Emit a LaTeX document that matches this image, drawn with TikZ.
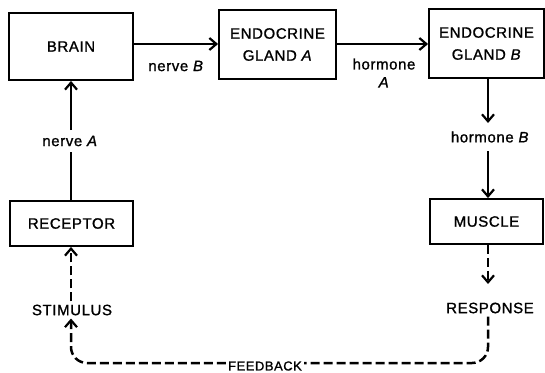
\documentclass[tikz,border=0pt]{standalone}
\usepackage{fontspec}
\setmainfont{Liberation Sans}[LetterSpace=4, FakeBold=1.2]
\usetikzlibrary{arrows.meta}
\begin{document}
\begin{tikzpicture}[x=1pt,y=1pt,
  every node/.style={font=\fontsize{15}{22}\selectfont, inner sep=3pt},
  blk/.style={draw, line width=1.9pt, minimum width=#1, align=center},
  lbl/.style={align=center},
  tip/.style={},
  arr/.style={line width=2.5pt, -{Straight Barb[length=7pt,width=12pt,line width=2.2pt]}},
  plain/.style={line width=2.5pt},
  dsh/.style={line width=2.5pt, dash pattern=on 9pt off 4pt},
  dsharr/.style={dsh, -{Straight Barb[length=7pt,width=12pt,line width=2.2pt]}}
]
\useasboundingbox (0,0) rectangle (545,-372);
% boxes
\node[blk=124pt, minimum height=67pt] (brain) at (71,-46.5) {BRAIN};
\node[blk=117pt, minimum height=69pt] (glandA) at (277.5,-44.5) {ENDOCRINE\\GLAND \textit{A}};
\node[blk=115pt, minimum height=69pt] (glandB) at (486.5,-43.5) {ENDOCRINE\\GLAND \textit{B}};
\node[blk=123pt, minimum height=45pt] (receptor) at (71.5,-223.5) {RECEPTOR};
\node[blk=113pt, minimum height=45pt] (muscle) at (486.5,-221.5) {MUSCLE};
% labels
\node[lbl] (nerveB) at (176,-66) {nerve \textit{B}};
\node[lbl, align=center, inner sep=1pt] (hormoneA) at (384,-73) {hormone\\[-4pt]\textit{A}};
\node[lbl] (nerveA) at (70,-141) {nerve \textit{A}};
\node[lbl] (hormoneB) at (490,-137) {hormone \textit{B}};
\node[lbl] (stimulus) at (72,-310) {STIMULUS};
\node[lbl] (response) at (490,-308) {RESPONSE};
\node[lbl, font=\fontsize{13}{15}\selectfont, inner sep=2pt] (feedback) at (265,-366) {FEEDBACK};
% connectors
\draw[arr] (brain.east |- 0,-44) -- (glandA.west |- 0,-44);
\draw[arr] (glandA.east |- 0,-44) -- (glandB.west |- 0,-44);
\draw[arr] (glandB.south -| 488,0) -- (488,-123);
\draw[arr] (488,-151) -- (muscle.north -| 488,0);
\draw[plain] (receptor.north -| 71,0) -- (71,-152);
\draw[arr] (71,-130) -- (brain.south -| 71,0);
\draw[dsharr] (stimulus.north -| 71,0) -- (receptor.south -| 71,0);
\draw[dsharr] (muscle.south -| 488,0) -- (488,-284);
\coordinate (fbR) at (feedback.east |- 0,-363);
\coordinate (fbL) at (feedback.west |- 0,-363);
\draw[dsh, rounded corners=16pt] (response.south -| 488,0) -- (488,-363) -- (fbR);
\draw[dsharr, rounded corners=16pt] (fbL) -- (71,-363) -- (stimulus.south -| 71,0);
\end{tikzpicture}
\end{document}
